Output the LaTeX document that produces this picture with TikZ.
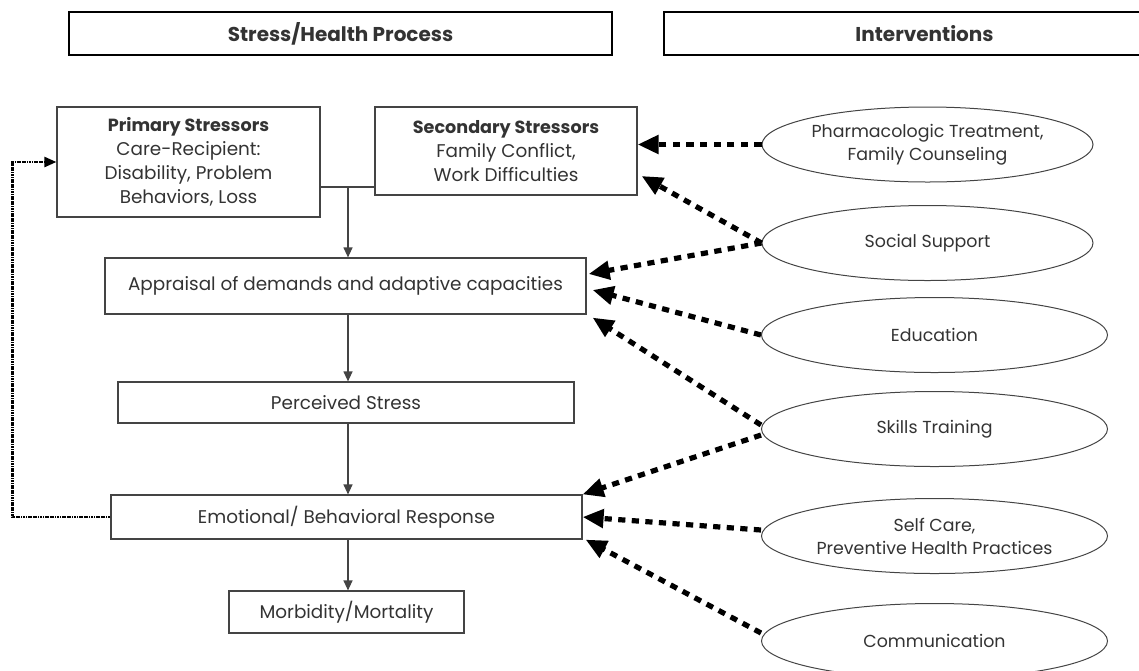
\documentclass[tikz,border=0pt]{standalone}
\usepackage{xcolor}
\usepackage{fontspec}
\setmainfont{Poppins}
\usetikzlibrary{arrows.meta,shapes.geometric}

\definecolor{ink}{HTML}{333333}
\definecolor{edge}{HTML}{444444}

\begin{document}
\begin{tikzpicture}[x=0.5pt,y=-0.5pt,
   font=\fontsize{9.2}{12}\selectfont, text=ink,
   header/.style={draw=black,line width=0.9pt,minimum height=21.5pt,
     font=\fontsize{10}{12}\selectfont\bfseries},
   process box/.style={draw=edge,line width=0.6pt,align=center,inner sep=1pt},
   intervention/.style={ellipse,draw=edge,line width=0.5pt,align=center,
     inner sep=0pt,minimum width=173pt,minimum height=37.5pt,
     font=\fontsize{8.7}{11.5}\selectfont},
   flow/.style={draw=edge,line width=0.6pt,-{Triangle[length=5pt,width=4.5pt]}},
   feedback/.style={black,line width=1.2pt,dash pattern=on 0.6pt off 0.25pt,
     -{Triangle[length=6pt,width=5pt]}},
   helps/.style={black,line width=2.6pt,dash pattern=on 3.6pt off 3.2pt,
     -{Triangle[length=10.5pt,width=9pt]}}]

  \clip (0,0) rectangle (1139,670);
  \useasboundingbox (0,0) rectangle (1139,670);

  % column titles
  \node[header,minimum width=271.5pt] (hdrstress) at (340.5,33.5) {Stress/Health Process};
  \node[header,minimum width=260.5pt] (hdrinterv) at (924.5,33.5) {Interventions};

  % stress process
  \node[process box,minimum width=131.5pt,minimum height=55pt] (primary) at (188.5,162)
    {\textbf{\fontsize{8.8}{12}\selectfont Primary Stressors}\\Care-Recipient:\\Disability, Problem\\Behaviors, Loss};
  \node[process box,minimum width=131pt,minimum height=44pt] (secondary) at (506,151)
    {\textbf{\fontsize{8.8}{12}\selectfont Secondary Stressors}\\Family Conflict,\\Work Difficulties};
  \node[process box,minimum width=240.5pt,minimum height=28pt] (appraisal) at (345.5,286)
    {Appraisal of demands and adaptive capacities};
  \node[process box,minimum width=228pt,minimum height=20.5pt] (perceived) at (346,402.5)
    {Perceived Stress};
  \node[process box,minimum width=235.5pt,minimum height=22pt] (response) at (346.5,517)
    {Emotional/ Behavioral Response};
  \node[process box,minimum width=117.5pt,minimum height=21pt] (outcome) at (346.5,612)
    {Morbidity/Mortality};

  % interventions
  \node[intervention,minimum width=165.5pt] (pharma) at (927.5,144.5)
    {Pharmacologic Treatment,\\Family Counseling};
  \node[intervention,minimum width=165.5pt] (social) at (927.5,243) {Social Support};
  \node[intervention] (educ) at (934.5,335) {Education};
  \node[intervention] (skills) at (934.5,429) {Skills Training};
  \node[intervention] (selfcare) at (934.5,536) {Self Care,\\Preventive Health Practices};
  \node[intervention] (commun) at (934.5,641) {Communication};

  % process arrows
  \coordinate (join) at (348,187);
  \draw[draw=edge,line width=0.6pt] (primary.east |- join) -- (secondary.west |- join);
  \draw[flow] (join) -- (join |- appraisal.north);
  \foreach \from/\to in {appraisal/perceived,perceived/response,response/outcome}
    \draw[flow] (\from.south -| join) -- (\to.north -| join);

  % loop back to the stressors
  \draw[feedback] (response.west) -- ++(-98,0) |- (primary.west);

  % interventions acting on the process
  \draw[helps] (pharma.west) -- (pharma.west -| secondary.east);
  \draw[helps] (social.west) -- ([xshift=2pt,yshift=-12.5pt]secondary.east);
  \draw[helps] (social.west) -- ([xshift=1pt,yshift=6pt]appraisal.east);
  \draw[helps] (educ.west) -- ([xshift=3pt,yshift=-2pt]appraisal.east);
  \draw[helps] ([yshift=2pt]skills.west) -- ([xshift=3pt,yshift=-1.5pt]appraisal.south east);
  \draw[helps] ([yshift=-3pt]skills.west) -- (response.north east);
  \draw[helps] ([yshift=3pt]selfcare.west) -- (response.east);
  \draw[helps] ([yshift=4pt]commun.west) -- ([xshift=1.5pt]response.south east);
\end{tikzpicture}
\end{document}
